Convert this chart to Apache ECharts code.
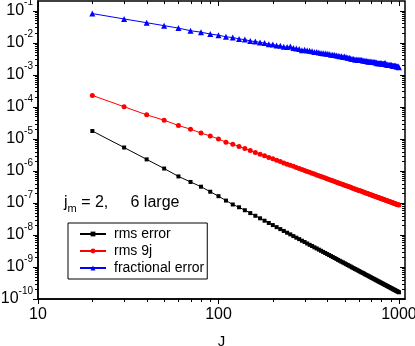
<!DOCTYPE html>
<html>
<head>
<meta charset="utf-8">
<script src="https://cdn.jsdelivr.net/npm/echarts@6/dist/echarts.min.js"></script>
<style>
html, body { margin: 0; padding: 0; background: #fff; }
#main { width: 415px; height: 346px; }
</style>
</head>
<body>
<div id="main"></div>
<script>
// J values (x)
var jValues = [20, 30, 40, 50, 60, 70, 80, 90, 100,
    110, 120, 130, 140, 150, 160, 170, 180, 190, 200,
    210, 220, 230, 240, 250, 260, 270, 280, 290, 300,
    310, 320, 330, 340, 350, 360, 370, 380, 390, 400,
    410, 420, 430, 440, 450, 460, 470, 480, 490, 500,
    510, 520, 530, 540, 550, 560, 570, 580, 590, 600,
    610, 620, 630, 640, 650, 660, 670, 680, 690, 700,
    710, 720, 730, 740, 750, 760, 770, 780, 790, 800,
    810, 820, 830, 840, 850, 860, 870, 880, 890, 900,
    910, 920, 930, 940, 950, 960, 970, 980, 990, 1000];

// rms error (black squares)
var rmsError = [1.75e-5, 5.35e-6, 2.28e-6, 1.18e-6, 6.7e-7, 4.5e-7, 3.2e-7, 2.23e-7, 1.62e-7,
    1.18e-7, 8.9e-8, 7.3e-8, 5.9e-8, 4.8e-8, 3.96e-8, 3.3e-8, 2.78e-8, 2.36e-8, 2.03e-8,
    1.75e-8, 1.52e-8, 1.33e-8, 1.17e-8, 1.04e-8, 9.2e-9, 8.2e-9, 7.4e-9, 6.6e-9, 6.0e-9,
    5.4e-9, 4.9e-9, 4.5e-9, 4.1e-9, 3.78e-9, 3.47e-9, 3.2e-9, 2.95e-9, 2.73e-9, 2.53e-9,
    2.35e-9, 2.19e-9, 2.04e-9, 1.9e-9, 1.78e-9, 1.66e-9, 1.56e-9, 1.46e-9, 1.38e-9, 1.3e-9,
    1.22e-9, 1.15e-9, 1.09e-9, 1.03e-9, 9.7e-10, 9.2e-10, 8.7e-10, 8.3e-10, 7.9e-10, 7.5e-10,
    7.1e-10, 6.8e-10, 6.5e-10, 6.2e-10, 5.9e-10, 5.6e-10, 5.4e-10, 5.15e-10, 4.93e-10, 4.72e-10,
    4.53e-10, 4.34e-10, 4.16e-10, 4.0e-10, 3.84e-10, 3.69e-10, 3.55e-10, 3.41e-10, 3.29e-10, 3.16e-10,
    3.05e-10, 2.94e-10, 2.83e-10, 2.73e-10, 2.64e-10, 2.55e-10, 2.46e-10, 2.38e-10, 2.3e-10, 2.22e-10,
    2.15e-10, 2.08e-10, 2.01e-10, 1.95e-10, 1.89e-10, 1.83e-10, 1.78e-10, 1.72e-10, 1.67e-10, 1.62e-10];

// rms 9j (red circles)
var rms9j = [2.26e-4, 1.0e-4, 5.6e-5, 3.8e-5, 2.6e-5, 2.0e-5, 1.52e-5, 1.23e-5, 9.9e-6,
    7.8e-6, 6.8e-6, 5.76e-6, 4.94e-6, 4.29e-6, 3.75e-6, 3.31e-6, 2.94e-6, 2.63e-6, 2.37e-6,
    2.14e-6, 1.94e-6, 1.77e-6, 1.62e-6, 1.49e-6, 1.38e-6, 1.27e-6, 1.18e-6, 1.1e-6, 1.03e-6,
    9.58e-7, 8.98e-7, 8.42e-7, 7.92e-7, 7.46e-7, 7.04e-7, 6.65e-7, 6.29e-7, 5.97e-7, 5.66e-7,
    5.38e-7, 5.12e-7, 4.88e-7, 4.65e-7, 4.44e-7, 4.24e-7, 4.06e-7, 3.89e-7, 3.72e-7, 3.57e-7,
    3.43e-7, 3.29e-7, 3.17e-7, 3.05e-7, 2.93e-7, 2.83e-7, 2.73e-7, 2.63e-7, 2.54e-7, 2.45e-7,
    2.37e-7, 2.29e-7, 2.22e-7, 2.15e-7, 2.08e-7, 2.01e-7, 1.95e-7, 1.89e-7, 1.84e-7, 1.78e-7,
    1.73e-7, 1.68e-7, 1.64e-7, 1.59e-7, 1.55e-7, 1.5e-7, 1.47e-7, 1.43e-7, 1.39e-7, 1.35e-7,
    1.32e-7, 1.29e-7, 1.26e-7, 1.22e-7, 1.19e-7, 1.17e-7, 1.14e-7, 1.11e-7, 1.09e-7, 1.06e-7,
    1.04e-7, 1.01e-7, 9.92e-8, 9.71e-8, 9.49e-8, 9.3e-8, 9.1e-8, 8.91e-8, 8.72e-8, 8.54e-8];

// fractional error (blue triangles)
var fracError = [0.081, 0.055, 0.042, 0.034, 0.0285, 0.0236, 0.0213, 0.0186, 0.0172,
    0.0152, 0.0145, 0.0131, 0.0125, 0.0113, 0.0109, 0.0102, 0.0097, 0.0090, 0.0088,
    0.0082, 0.0080, 0.0074, 0.0073, 0.0076, 0.0068, 0.0066, 0.0064, 0.0058, 0.0060,
    0.0057, 0.0056, 0.0054, 0.0051, 0.0051, 0.0049, 0.0048, 0.0047, 0.0046, 0.0045,
    0.0044, 0.0042, 0.0042, 0.0041, 0.0040, 0.0039, 0.0038, 0.0038, 0.0036, 0.0037,
    0.0035, 0.0034, 0.0034, 0.0032, 0.0031, 0.0031, 0.0030, 0.0030, 0.0029, 0.0030,
    0.0029, 0.0029, 0.0028, 0.0028, 0.0027, 0.0027, 0.0026, 0.0026, 0.0026, 0.0026,
    0.0025, 0.0025, 0.0025, 0.0024, 0.0024, 0.0023, 0.0023, 0.0023, 0.0023, 0.0023,
    0.0022, 0.0022, 0.0023, 0.0023, 0.0021, 0.0021, 0.0020, 0.0020, 0.0020, 0.0020,
    0.0020, 0.0019, 0.0019, 0.0019, 0.0019, 0.0019, 0.0018, 0.0018, 0.0018, 0.0017];

var seriesNames = ['rms error', 'rms 9j', 'fractional error'];
var xMajor = [10, 100, 1000];
var xMinor = [20, 30, 40, 50, 60, 70, 80, 90, 200, 300, 400, 500, 600, 700, 800, 900];
var yMajorExp = [-10, -9, -8, -7, -6, -5, -4, -3, -2, -1];

var font = '"Liberation Sans", Arial, sans-serif';

function pairs(ys) {
    return jValues.map(function (j, i) { return [j, ys[i]]; });
}

var myChart = echarts.init(document.getElementById('main'));

var option = {
    animation: false,
    backgroundColor: '#fff',
    grid: {
        left: 38, top: 1, right: 10, bottom: 47,
        outerBoundsMode: 'none', containLabel: false,
        show: true, borderColor: '#000', borderWidth: 1.5
    },
    legend: {
        orient: 'vertical',
        left: 68, top: 223,
        data: seriesNames,
        borderColor: '#000', borderWidth: 1,
        padding: [4, 3, 4, 11],
        itemWidth: 26, itemHeight: 6, itemGap: 3,
        textStyle: { fontSize: 14, fontFamily: font, color: '#000', padding: [0, 0, 0, 3] }
    },
    xAxis: {
        type: 'log', logBase: 10, min: 10, max: 1080,
        name: 'J', nameLocation: 'middle', nameGap: 35,
        nameTextStyle: { fontSize: 15, fontFamily: font, color: '#000' },
        axisLine: { show: true, lineStyle: { color: '#000', width: 1.5 } },
        axisTick: { show: false },
        splitLine: { show: false },
        axisLabel: {
            margin: 8, fontSize: 16, fontFamily: font, color: '#000',
            showMaxLabel: false,
            formatter: function (v) { return xMajor.indexOf(Math.round(v)) >= 0 ? String(Math.round(v)) : ''; }
        }
    },
    yAxis: {
        type: 'log', logBase: 10, min: 1e-10, max: 0.2, splitNumber: 10,
        axisLine: { show: true, lineStyle: { color: '#000', width: 1.5 } },
        axisTick: { show: false },
        splitLine: { show: false },
        axisLabel: {
            margin: 5, showMaxLabel: false,
            formatter: function (v) {
                var e = Math.round(Math.log10(v));
                return '{b|10}{s|' + e + '}';
            },
            rich: {
                b: { fontSize: 16, fontFamily: font, color: '#000', lineHeight: 26 },
                s: { fontSize: 10, fontFamily: font, color: '#000', lineHeight: 12, verticalAlign: 'top' }
            }
        }
    },
    series: [
        {
            name: seriesNames[0], type: 'line', data: pairs(rmsError),
            symbol: 'rect', symbolSize: 4, showAllSymbol: true,
            itemStyle: { color: '#000' },
            lineStyle: { color: '#000', width: 1 }
        },
        {
            name: seriesNames[1], type: 'line', data: pairs(rms9j),
            symbol: 'circle', symbolSize: 5, showAllSymbol: true,
            itemStyle: { color: '#ff0000' },
            lineStyle: { color: '#ff0000', width: 1 }
        },
        {
            name: seriesNames[2], type: 'line', data: pairs(fracError),
            symbol: 'triangle', symbolSize: 6, showAllSymbol: true,
            itemStyle: { color: '#0000ff' },
            lineStyle: { color: '#0000ff', width: 1 }
        }
    ]
};

myChart.setOption(option);

// ticks on all four sides, placed through the axes' own scales
var xL = myChart.convertToPixel({ xAxisIndex: 0 }, 10);
var xR = myChart.convertToPixel({ xAxisIndex: 0 }, 1080);
var yB = myChart.convertToPixel({ yAxisIndex: 0 }, 1e-10);
var yT = myChart.convertToPixel({ yAxisIndex: 0 }, 0.2);
var ticks = [];
function tick(x1, y1, x2, y2) {
    ticks.push({
        type: 'line', silent: true, z: 10,
        shape: { x1: x1, y1: y1, x2: x2, y2: y2 },
        style: { stroke: '#000', lineWidth: 1 }
    });
}
function px(v) { return Math.round(v) + 0.5; }
xMajor.concat(xMinor).forEach(function (v) {
    var len = xMajor.indexOf(v) >= 0 ? 5 : 3;
    var x = px(myChart.convertToPixel({ xAxisIndex: 0 }, v));
    tick(x, yB, x, yB + len);
    tick(x, yT, x, yT + len);
});
yMajorExp.forEach(function (e) {
    var vals = [Math.pow(10, e)];
    if (e < -1) {
        for (var m = 2; m <= 9; m++) vals.push(m * Math.pow(10, e));
    }
    vals.forEach(function (v, k) {
        var len = k === 0 ? 5 : 3;
        var y = px(myChart.convertToPixel({ yAxisIndex: 0 }, v));
        tick(xL - len, y, xL, y);
        tick(xR - len, y, xR, y);
    });
});

ticks.push({
    type: 'text', left: 64, top: 195, z: 20,
    style: {
        text: '{a|j}{m|m}{a| = 2,     6 large}',
        rich: {
            a: { fontSize: 16, fontFamily: font, fill: '#000', lineHeight: 22 },
            m: { fontSize: 11, fontFamily: font, fill: '#000', lineHeight: 12, verticalAlign: 'bottom' }
        }
    }
});

myChart.setOption({ graphic: ticks });
</script>
</body>
</html>
